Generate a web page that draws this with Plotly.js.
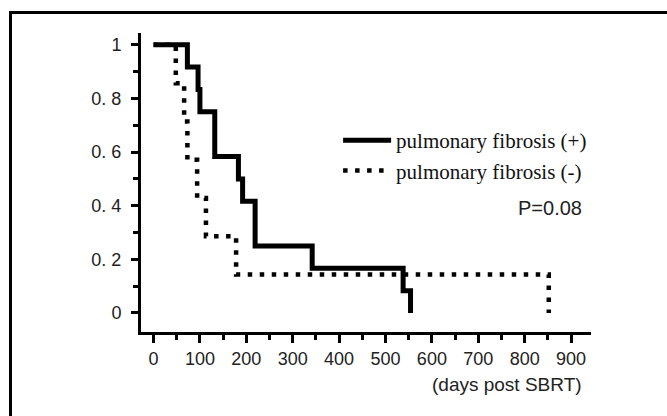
<!DOCTYPE html>
<html>
<head>
<meta charset="utf-8">
<script src="https://cdn.plot.ly/plotly-3.0.1.min.js"></script>
<style>
html,body{margin:0;padding:0;background:#fff;overflow:hidden;}
#chart{position:absolute;left:0;top:0;width:667px;height:416px;}
#frame{position:absolute;left:9px;top:11px;width:680px;height:420px;border:3px solid #000;pointer-events:none;}
</style>
</head>
<body>
<div id="chart"></div>
<div id="frame"></div>
<script>
// Kaplan-Meier data
const fibPosDays = [0, 73, 96, 100, 132, 183, 192, 219, 342, 538, 554];
const fibPosSurv = [1, 0.917, 0.833, 0.75, 0.583, 0.5, 0.417, 0.25, 0.167, 0.083, 0];
const fibNegDays = [0, 48, 66, 73, 94, 113, 178, 852];
const fibNegSurv = [1, 0.857, 0.714, 0.571, 0.429, 0.286, 0.143, 0];

const seriesNames = ['pulmonary fibrosis (+)', 'pulmonary fibrosis (-)'];
const xTickVals = [0, 100, 200, 300, 400, 500, 600, 700, 800, 900];
const xTickText = ['0', '100', '200', '300', '400', '500', '600', '700', '800', '900'];
const yTickVals = [0, 0.2, 0.4, 0.6, 0.8, 1];
const yTickText = ['0', '0. 2', '0. 4', '0. 6', '0. 8', '1'];
const pValueText = 'P=0.08';
const xAxisLabel = '(days post SBRT)';

const traces = [
  {
    x: fibNegDays, y: fibNegSurv, type: 'scatter', mode: 'lines',
    name: seriesNames[1], legendrank: 2, legendgroup: 'b',
    line: {shape: 'hv', color: '#000', width: 4.5, dash: '4.5px,7.5px'},
    hoverinfo: 'skip'
  },
  {
    x: fibPosDays, y: fibPosSurv, type: 'scatter', mode: 'lines',
    name: seriesNames[0], legendrank: 1, legendgroup: 'a',
    line: {shape: 'hv', color: '#000', width: 5},
    hoverinfo: 'skip'
  }
];

const tickFont = {family: '"Liberation Sans Narrow", "Liberation Sans", Arial, sans-serif', size: 18, color: '#222'};

const layout = {
  width: 667, height: 416,
  margin: {l: 141, r: 76, t: 33, b: 84, pad: 0},
  paper_bgcolor: '#fff', plot_bgcolor: '#fff',
  showlegend: true,
  legend: {
    x: 0.438, y: 0.59, xanchor: 'left', yanchor: 'middle',
    font: {family: '"Liberation Serif", "Times New Roman", serif', size: 21, color: '#111'},
    bgcolor: 'rgba(0,0,0,0)', itemwidth: 48, tracegroupgap: 5,
    traceorder: 'normal'
  },
  xaxis: {
    range: [-27, 943], showgrid: false, zeroline: false,
    showline: true, linecolor: '#000', linewidth: 3,
    ticks: 'outside', ticklen: 8, tickwidth: 3, tickcolor: '#000',
    tickvals: xTickVals, ticktext: xTickText, tickfont: tickFont,
    minor: {dtick: 50, tick0: 0, ticks: 'outside', ticklen: 5, tickwidth: 3, tickcolor: '#000'},
    fixedrange: true
  },
  yaxis: {
    range: [-0.071, 1.044], showgrid: false, zeroline: false,
    showline: true, linecolor: '#000', linewidth: 3,
    ticks: 'outside', ticklen: 7, tickwidth: 3, tickcolor: '#000',
    tickvals: yTickVals, ticktext: yTickText, tickfont: tickFont,
    ticklabelstandoff: 6,
    minor: {dtick: 0.1, tick0: 0, ticks: 'outside', ticklen: 5, tickwidth: 3, tickcolor: '#000'},
    fixedrange: true
  },
  annotations: [
    {xref: 'paper', yref: 'paper', x: 0.985, y: 0.415, xanchor: 'right', yanchor: 'middle',
     text: pValueText, showarrow: false,
     font: {family: '"Liberation Sans", Arial, sans-serif', size: 20, color: '#222'}},
    {xref: 'paper', yref: 'paper', x: 0.985, y: -0.177, xanchor: 'right', yanchor: 'middle',
     text: xAxisLabel, showarrow: false,
     font: {family: '"Liberation Sans", Arial, sans-serif', size: 19, color: '#222'}}
  ]
};

Plotly.newPlot('chart', traces, layout, {staticPlot: true, displayModeBar: false});
</script>
</body>
</html>
